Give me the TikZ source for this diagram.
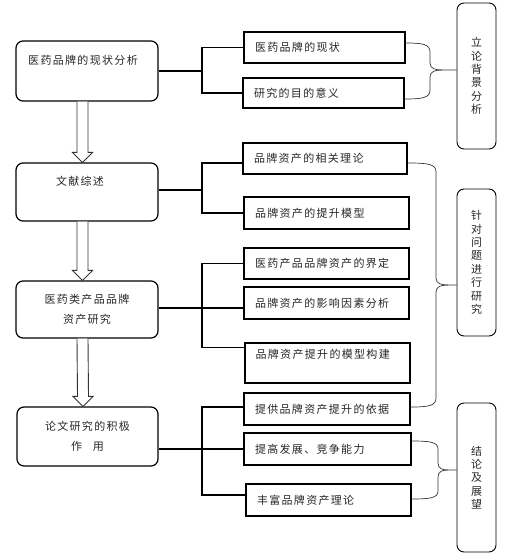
\documentclass[tikz,border=0pt]{standalone}
\usepackage{fontspec}
\newfontfamily\cjk[LetterSpace=12]{Noto Sans CJK SC}
\usetikzlibrary{calc}
\begin{document}
\begin{tikzpicture}[x=1pt,y=-1pt,
  every node/.style={font=\cjk\fontsize{11}{13.4}\selectfont, text=black!85},
  lbox/.style={draw, rounded corners=7pt, line width=1.2pt, inner sep=0pt},
  ltext/.style={align=center, inner sep=0pt, font=\cjk\fontsize{11}{20}\selectfont},
  rbox/.style={draw, line width=1.2pt, inner xsep=11pt, inner ysep=0pt, align=left, text width=#1},
  tbox/.style={draw, rounded corners=7pt, line width=0.9pt, minimum width=39pt, inner sep=0pt, align=center, text width=14pt},
  conn/.style={line width=1.1pt},
  brc/.style={line width=0.7pt, black!80},
  harrow/.style={draw=black!80, line width=0.9pt, fill=white, line join=miter}
]
\useasboundingbox (0,0) rectangle (510,556);

% left boxes
\node[lbox, minimum width=142pt, minimum height=60pt] (b1) at (87,71) {};
\node[ltext] (b1t) at (83,60) {医药品牌的现状分析};
\node[lbox, minimum width=142pt, minimum height=58pt] (b2) at (87,192) {};
\node[ltext] (b2t) at (80,181) {文献综述};
\node[lbox, minimum width=142pt, minimum height=57pt, ltext] (b3) at (87,309.5) {医药类产品品牌\\资产研究};
\node[lbox, minimum width=141pt, minimum height=59pt, ltext] (b4) at (87.5,436.5) {论文研究的积极\\作\quad 用};

% hollow arrows
\foreach \a/\b in {b1/b2, b2/b3, b3/b4}{
  \draw[harrow] ($(\a.south)+(-10,0)$) -- ($(\b.north)+(-10,-10)$) -- ($(\b.north)+(-14.5,-10)$) -- ($(\b.north)+(-4.5,0)$) -- ($(\b.north)+(5.5,-10)$) -- ($(\b.north)+(1,-10)$) -- ($(\a.south)+(1,0)$);
}

% right boxes
\node[rbox=139pt, minimum height=31pt] (r1) at (324.5,47.5) {医药品牌的现状};
\node[rbox=139pt, minimum height=30pt] (r2) at (323.5,93) {研究的目的意义};
\node[rbox=142pt, minimum height=31pt] (r3) at (325,158.5) {品牌资产的相关理论};
\node[rbox=143pt, minimum height=32pt] (r4) at (326.5,213) {品牌资产的提升模型};
\node[rbox=143pt, minimum height=31pt] (r5) at (326.5,263.5) {医药产品品牌资产的界定};
\node[rbox=143pt, minimum height=32pt] (r6) at (326.5,303) {品牌资产的影响因素分析};
\node[rbox=143pt, minimum height=40pt] (r7) at (327.5,363) {};
\node[anchor=west, inner sep=0pt] (r7t) at ($(r7.north west)+(11,12)$) {品牌资产提升的模型构建};
\node[rbox=144pt, minimum height=32pt] (r8) at (327,409) {提供品牌资产提升的依据};
\node[rbox=145pt, minimum height=32pt] (r9) at (327.5,449) {提高发展、竞争能力};
\node[rbox=143pt, minimum height=32pt] (r10) at (328.5,500) {丰富品牌资产理论};

% tall boxes
\node[tbox, minimum height=146pt] (t1) at (476.5,76) {立\\论\\背\\景\\分\\析};
\node[tbox, minimum height=147pt] (t2) at (476.5,262.5) {针\\对\\问\\题\\进\\行\\研\\究};
\node[tbox, minimum height=149pt] (t3) at (476.5,477.5) {结\\论\\及\\展\\望};

% junctions
\coordinate (j1) at (202,71);
\coordinate (j2) at (202,190);
\coordinate (j3) at (202,308);
\coordinate (j4) at (202,449);

\draw[conn] (b1.east) -- (j1);
\draw[conn] (r1.west) -| (j1);
\draw[conn] (r2.west) -| (j1);

\draw[conn] (b2.east |- j2) -- (j2);
\draw[conn] ($(r3.west)+(0,4.5)$) -| (j2);
\draw[conn] (r4.west) -| (j2);

\draw[conn] (b3.east |- j3) -- (j3);
\draw[conn] (r5.west) -| (j3);
\draw[conn] (r6.west |- j3) -- (j3);
\draw[conn] ($(r7.north west)+(0,5)$) -| (j3);

\draw[conn] (b4.east |- j4) -- (j4);
\draw[conn] ($(r8.west)+(0,-2)$) -| (j4);
\draw[conn] (r9.west) -- (j4);
\draw[conn] ($(r10.west)+(0,-5)$) -| (j4);

% braces
\draw[brc] ($(r1.east)+(0,-4.5)$) .. controls (422,43) and (430,44) .. (430,52) -- (430,63) .. controls (430,69) and (436,70) .. (442,70) -- ($(t1.west)+(0,-6)$);
\draw[brc] ($(r2.east)+(0,6)$) .. controls (422,99) and (430,98) .. (430,90) -- (430,77) .. controls (430,71) and (436,70) .. (442,70);

\draw[brc] ($(r3.east)+(0,4.5)$) .. controls (428,163) and (436,164) .. (436,172) -- (436,278) .. controls (436,284) and (442,285) .. (448,285) -- ($(t2.west)+(0,22.5)$);
\draw[brc] ($(r8.east)+(0,-2)$) .. controls (428,407) and (436,406) .. (436,398) -- (436,292) .. controls (436,286) and (442,285) .. (448,285);

\draw[brc] ($(r9.east)+(0,-8)$) .. controls (430,441) and (438,442) .. (438,449) -- (438,463) .. controls (438,469) and (443,470) .. (448,470) -- ($(t3.west)+(0,-7.5)$);
\draw[brc] ($(r10.east)+(0,-1)$) .. controls (430,499) and (438,498) .. (438,491) -- (438,477) .. controls (438,471) and (443,470) .. (448,470);
\end{tikzpicture}
\end{document}
